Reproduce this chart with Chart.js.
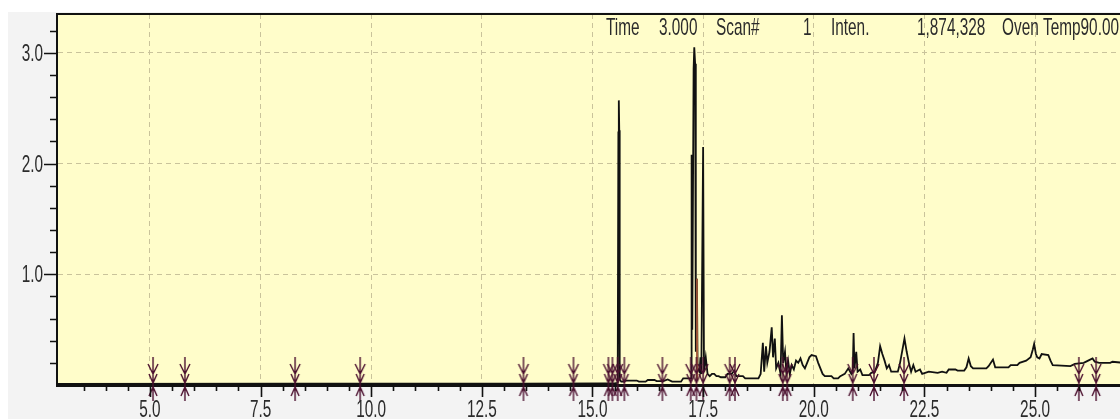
<!DOCTYPE html>
<html>
<head>
<meta charset="utf-8">
<script src="https://cdn.jsdelivr.net/npm/chart.js@4.4.0/dist/chart.umd.min.js"></script>
<style>
  html, body { margin: 0; padding: 0; background: #fff; }
  #wrap { width: 1120px; height: 419px; }
</style>
</head>
<body>
<div id="wrap"><canvas id="chrom"></canvas></div>
<script>
// TIC chromatogram, retention time (min) vs intensity (x1,000,000)
const times = [2.9, 8.3, 13.4, 15.3, 15.5,
  15.57, 15.585, 15.595, 15.605, 15.615, 15.65,
  15.72, 15.75, 16.0, 16.05, 16.2, 16.25, 16.4, 16.45, 16.6, 16.7, 16.8, 17.0, 17.05, 17.2,
  17.23, 17.24, 17.255, 17.27, 17.285, 17.3, 17.32, 17.335, 17.36, 17.375, 17.42, 17.44, 17.46, 17.5, 17.52, 17.56, 17.6, 17.65,
  17.7, 17.75, 17.8, 17.85, 17.9, 18.0, 18.05, 18.15, 18.2, 18.25, 18.4, 18.45, 18.75, 18.8,
  18.85, 18.88, 18.92, 18.95, 19.0, 19.05, 19.08, 19.12, 19.15, 19.2, 19.25, 19.28, 19.31, 19.35, 19.38, 19.42, 19.46, 19.5,
  19.55, 19.6, 19.65, 19.7, 19.75, 19.8, 19.85, 19.9, 19.95, 20.05, 20.1, 20.2, 20.25, 20.4, 20.45, 20.55, 20.6, 20.7, 20.78,
  20.85, 20.88, 20.9, 20.92, 20.96, 20.99, 21.05, 21.1, 21.25, 21.3, 21.38, 21.45, 21.5, 21.55, 21.6, 21.65, 21.7, 21.75,
  21.9, 21.95, 22.05, 22.1, 22.15, 22.2, 22.25, 22.3, 22.4, 22.45, 22.6, 22.8, 22.9, 23.0, 23.05, 23.2, 23.25, 23.4,
  23.45, 23.5, 23.55, 23.6, 23.9, 23.95, 24.05, 24.1, 24.4, 24.45, 24.6, 24.65, 24.8, 24.9, 24.95, 24.98, 25.02, 25.05,
  25.1, 25.15, 25.3, 25.35, 25.4, 25.8, 25.9, 26.1, 26.2, 26.3, 26.35, 26.45, 26.7, 26.75, 27.0];
const intensity = [0.01, 0.012, 0.012, 0.015, 0.015,
  0.02, 2.28, 2.57, 2.3, 0.05, 0.03,
  0.03, 0.04, 0.04, 0.03, 0.03, 0.045, 0.045, 0.035, 0.035, 0.05, 0.03, 0.03, 0.06, 0.06,
  0.06, 2.08, 0.5, 0.5, 2.85, 3.05, 2.9, 0.3, 0.96, 0.15, 0.12, 0.25, 0.1, 2.15, 0.12, 0.25, 0.1, 0.08,
  0.1, 0.1, 0.08, 0.08, 0.07, 0.07, 0.1, 0.1, 0.13, 0.08, 0.08, 0.06, 0.06, 0.1,
  0.38, 0.12, 0.35, 0.2, 0.3, 0.52, 0.25, 0.42, 0.15, 0.2, 0.1, 0.63, 0.2, 0.3, 0.12, 0.22, 0.1, 0.18,
  0.14, 0.22, 0.2, 0.24, 0.18, 0.15, 0.2, 0.25, 0.27, 0.26, 0.2, 0.1, 0.08, 0.08, 0.06, 0.06, 0.08, 0.1, 0.15,
  0.1, 0.12, 0.47, 0.15, 0.3, 0.12, 0.14, 0.09, 0.09, 0.11, 0.12, 0.2, 0.35, 0.28, 0.22, 0.15, 0.18, 0.12,
  0.12, 0.2, 0.42, 0.3, 0.2, 0.12, 0.18, 0.12, 0.14, 0.1, 0.12, 0.11, 0.12, 0.11, 0.14, 0.14, 0.13, 0.13,
  0.16, 0.24, 0.17, 0.15, 0.15, 0.17, 0.23, 0.16, 0.16, 0.18, 0.18, 0.2, 0.22, 0.25, 0.32, 0.37, 0.28, 0.25,
  0.24, 0.28, 0.27, 0.22, 0.18, 0.17, 0.19, 0.2, 0.22, 0.24, 0.21, 0.2, 0.2, 0.21, 0.2];

// integrated peak drawn in brown
const brownTimes = [17.35, 17.36, 17.37];
const brownValues = [0.05, 0.96, 0.05];

// peak start/end markers on the baseline
const markerTimes = [5.07, 5.79, 8.28, 9.75, 13.44, 14.57, 15.36, 15.45, 15.57, 15.72, 16.58,
  17.22, 17.35, 17.5, 18.1, 18.22, 19.3, 19.4, 20.88, 21.36, 22.04, 25.99, 26.38];

const headerItems = [['Time', 606], ['3.000', 659], ['Scan#', 716], ['1', 803],
  ['Inten.', 831], ['1,874,328', 917], ['Oven Temp90.00', 1002]];

const FONT = '24px "Liberation Sans", Arial, sans-serif';

function squeezeText(ctx, s, x, y, align) {
  ctx.save();
  ctx.translate(x, y);
  ctx.scale(0.64, 1);
  ctx.textAlign = align;
  ctx.fillText(s, 0, 0);
  ctx.restore();
}

// marker glyph: down arrow above the baseline, up arrow below
const mark = document.createElement('canvas');
mark.width = 16; mark.height = 60;
(function () {
  const c = mark.getContext('2d');
  c.strokeStyle = '#4b0f2e';
  c.lineWidth = 1.4;
  c.beginPath();
  c.moveTo(8, 2); c.lineTo(8, 46);
  c.moveTo(3, 9); c.lineTo(8, 19); c.lineTo(13, 9);
  c.moveTo(4, 19); c.lineTo(8, 28); c.lineTo(12, 19);
  c.moveTo(4, 41); c.lineTo(8, 32); c.lineTo(12, 41);
  c.stroke();
})();

const isMulti = (v, step) => Math.abs(v / step - Math.round(v / step)) < 1e-6;

const framePlugin = {
  id: 'frame',
  beforeDraw(chart) {
    const { ctx, chartArea: a, width, height } = chart;
    ctx.save();
    ctx.fillStyle = '#ffffff';
    ctx.fillRect(0, 0, width, height);
    ctx.fillStyle = '#f3f3f3';
    ctx.fillRect(8, 12, width - 8, height - 12);
    ctx.fillStyle = '#fffdca';
    ctx.fillRect(a.left, a.top, a.right - a.left, a.bottom - a.top);
    ctx.restore();
  },
  afterDraw(chart) {
    const { ctx, chartArea: a } = chart;
    const xs = chart.scales.x, ys = chart.scales.y;
    ctx.save();
    // top border
    ctx.strokeStyle = '#111';
    ctx.lineWidth = 2;
    ctx.beginPath();
    ctx.moveTo(a.left, a.top);
    ctx.lineTo(a.right, a.top);
    ctx.stroke();
    // tick marks
    ctx.lineWidth = 1.6;
    ctx.beginPath();
    xs.ticks.forEach(t => {
      const px = Math.round(xs.getPixelForValue(t.value)) + 0.5;
      const len = isMulti(t.value, 2.5) ? 12 : 6;
      ctx.moveTo(px, a.bottom);
      ctx.lineTo(px, a.bottom + len);
    });
    ys.ticks.forEach(t => {
      if (t.value <= 0) return;
      const py = Math.round(ys.getPixelForValue(t.value)) + 0.5;
      const len = isMulti(t.value, 1) ? 13 : 7;
      ctx.moveTo(a.left - len, py);
      ctx.lineTo(a.left, py);
    });
    ctx.stroke();
    // labels
    ctx.fillStyle = '#2b2b2b';
    ctx.font = FONT;
    ctx.textBaseline = 'alphabetic';
    xs.ticks.forEach(t => {
      if (isMulti(t.value, 2.5) && t.value >= 5) {
        squeezeText(ctx, t.value.toFixed(1), xs.getPixelForValue(t.value), 417, 'center');
      }
    });
    ys.ticks.forEach(t => {
      if (isMulti(t.value, 1) && t.value >= 1) {
        squeezeText(ctx, t.value.toFixed(1), 43, ys.getPixelForValue(t.value) + 8, 'right');
      }
    });
    headerItems.forEach(([s, x]) => squeezeText(ctx, s, x, 35, 'left'));
    ctx.restore();
  }
};

const ctx = document.getElementById('chrom').getContext('2d');
const chrom = new Chart(ctx, {
  type: 'line',
  data: {
    datasets: [
      {
        label: 'markers',
        type: 'scatter',
        data: markerTimes.map(t => ({ x: t, y: 0 })),
        pointStyle: mark,
        pointRadius: 8,
        clip: false,
        order: 0
      },
      {
        label: 'integrated',
        data: brownTimes.map((t, i) => ({ x: t, y: brownValues[i] })),
        borderColor: '#a65a3a',
        borderWidth: 1.6,
        pointRadius: 0,
        order: 1
      },
      {
        label: 'TIC',
        data: times.map((t, i) => ({ x: t, y: intensity[i] })),
        borderColor: '#111111',
        borderWidth: 1.8,
        pointRadius: 0,
        tension: 0,
        order: 2
      }
    ]
  },
  options: {
    responsive: true,
    maintainAspectRatio: false,
    animation: false,
    layout: { autoPadding: false, padding: { top: 14, left: 0, right: 0, bottom: 0 } },
    plugins: { legend: { display: false }, tooltip: { enabled: false } },
    scales: {
      x: {
        type: 'linear',
        min: 2.9,
        max: 26.92,
        afterFit: s => { s.height = 34; },
        afterBuildTicks: s => { s.ticks = s.ticks.filter(t => isMulti(t.value, 0.5)); },
        ticks: { display: false, stepSize: 0.5 },
        grid: {
          drawTicks: false,
          lineWidth: 1,
          color: c => (c.tick && isMulti(c.tick.value, 2.5) ? '#c9c39b' : 'rgba(0,0,0,0)')
        },
        border: { display: true, color: '#111', width: 3, dash: [5, 4] }
      },
      y: {
        min: 0,
        max: 3.35,
        afterFit: s => { s.width = 57; },
        afterBuildTicks: s => { s.ticks = s.ticks.filter(t => isMulti(t.value, 0.2)); },
        ticks: { display: false, stepSize: 0.2 },
        grid: {
          drawTicks: false,
          lineWidth: 1,
          color: c => (c.tick && c.tick.value > 0 && isMulti(c.tick.value, 1) ? '#c9c39b' : 'rgba(0,0,0,0)')
        },
        border: { display: true, color: '#111', width: 2, dash: [5, 4] }
      }
    }
  },
  plugins: [framePlugin]
});
</script>
</body>
</html>
